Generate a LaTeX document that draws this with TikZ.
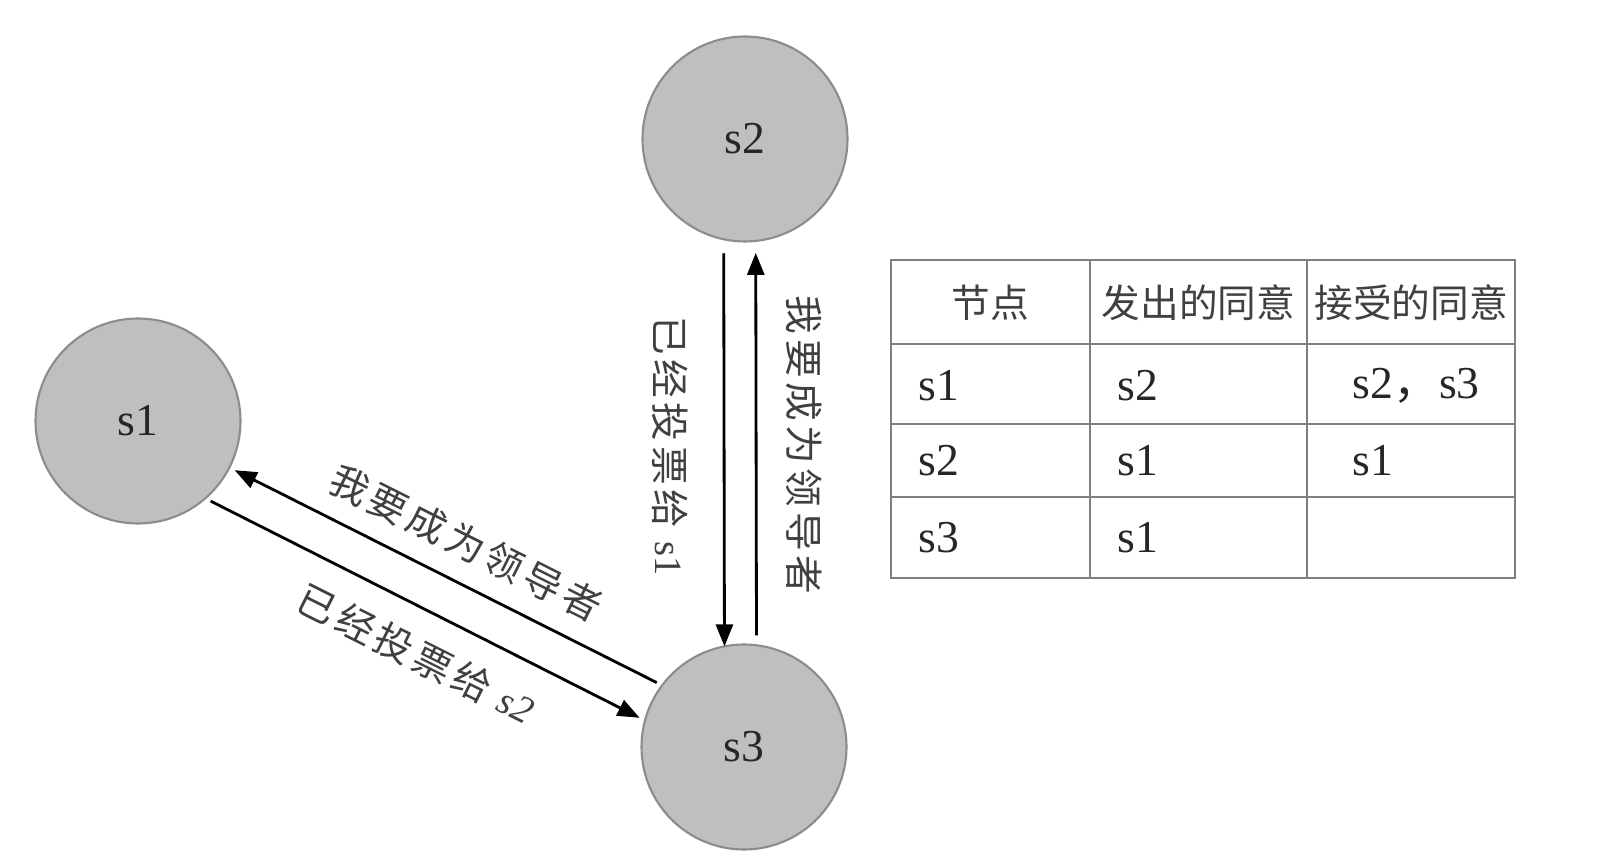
\documentclass[tikz,border=0pt]{standalone}
\usepackage{fontspec}
\setmainfont{Liberation Serif}
\newfontfamily\cjk{Noto Sans CJK SC}
\newfontfamily\cjkwide[LetterSpace=12]{Noto Sans CJK SC}
\usetikzlibrary{arrows.meta, positioning, calc}

\begin{document}
\begin{tikzpicture}[
    server/.style={draw=black!45, fill=black!25, circle, line width=0.6pt, minimum size=2.05cm, inner sep=0pt, outer sep=0pt, font=\fontsize{13}{15}\selectfont, text=black!85},
    msg/.style={line width=0.8pt, -{Triangle[length=0.22cm, width=0.17cm]}},
    msgtext/.style={font=\cjkwide\fontsize{11}{13}\selectfont, text=black!75, inner sep=0pt},
    grid/.style={draw=black!50, line width=0.8pt},
    head/.style={font=\cjk\fontsize{11}{13}\selectfont, text=black!75, inner sep=0pt},
    cell/.style={font=\fontsize{13}{15}\selectfont, text=black!85, anchor=west, inner sep=0pt}
]
    \useasboundingbox (0,0) rectangle (16,8.66);

    % servers
    \node[server] (s1) at (1.38,4.45) {s1};
    \node[server] (s2) at (7.45,7.27) {s2};
    \node[server] (s3) at (7.44,1.19) {s3};

    % votes between s2 and s3
    \draw[msg, shorten <=0.14cm] (s2.-102) -- (s3.101);
    \draw[msg, shorten <=0.1cm, shorten >=0.12cm] (s3.83) -- (s2.-84);
    \node[msgtext, rotate=-90] (v23) at (6.70,4.20) {已经投票给 {\rmfamily s1}};
    \node[msgtext, rotate=-90] (r32) at (8.04,4.21) {我要成为领导者};

    % votes between s1 and s3
    \draw[msg, shorten <=0.06cm, shorten >=0.06cm] (s3.143) -- (s1.-27);
    \draw[msg, shorten <=0.06cm, shorten >=0.06cm] (s1.-49) -- (s3.165);
    \node[msgtext, rotate=-26.6] (r31) at (4.66,3.23) {我要成为领导者};
    \node[msgtext, rotate=-26.6] (v13) at (4.16,2.12) {已经投票给 {\rmfamily\itshape s2}};

    % table
    \draw[grid] (8.91,2.88) rectangle (15.15,6.06);
    \foreach \y in {5.22,4.42,3.69}
        \draw[grid] (8.91,\y) -- (15.15,\y);
    \foreach \x in {10.90,13.07}
        \draw[grid] (\x,2.88) -- (\x,6.06);

    \node[head] (h1) at (9.905,5.63) {节点};
    \node[head] (h2) at (11.985,5.63) {发出的同意};
    \node[head] (h3) at (14.11,5.63) {接受的同意};

    \node[cell] (a1) at (9.18,4.80) {s1};
    \node[cell] (b1) at (11.17,4.80) {s2};
    \node[cell] (c1) at (13.52,4.80) {s2{\cjk ，}s3};
    \node[cell] (a2) at (9.18,4.05) {s2};
    \node[cell] (b2) at (11.17,4.05) {s1};
    \node[cell] (c2) at (13.52,4.05) {s1};
    \node[cell] (a3) at (9.18,3.28) {s3};
    \node[cell] (b3) at (11.17,3.28) {s1};
\end{tikzpicture}
\end{document}
